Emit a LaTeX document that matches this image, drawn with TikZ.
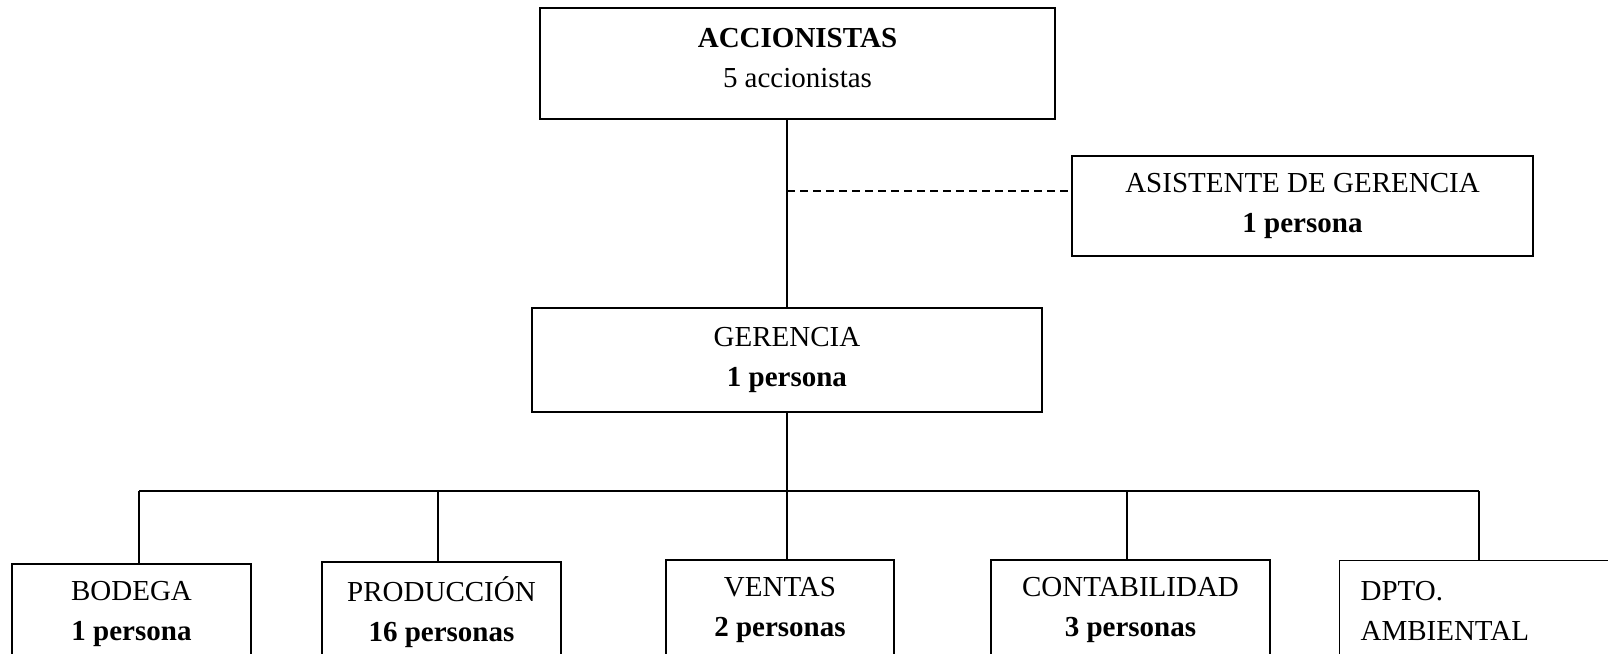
\documentclass[tikz,border=0pt]{standalone}
\usepackage{fontspec}
\setmainfont{Liberation Serif}
\usepackage{tikz}

\begin{document}
\begin{tikzpicture}[
  x=1pt, y=-1pt,
  line width=1.2pt,
  box/.style={draw, align=center, inner sep=0pt, font=\fontsize{29}{40}\selectfont},
  link/.style={line width=1.2pt},
  aux/.style={link, dashed, dash pattern=on 8pt off 5pt}
]
  \useasboundingbox (0,0) rectangle (1608,653);
  \clip (0,0) rectangle (1608,653);

  % upper part
  \node[box, minimum width=515pt, minimum height=111pt] (acc) at (797.5,63.5)
    {\textbf{ACCIONISTAS}\\5 accionistas\\[-28pt]\mbox{}};
  \node[box, minimum width=461pt, minimum height=100pt] (asis) at (1302.5,206)
    {ASISTENTE DE GERENCIA\\\textbf{1 persona}};
  \node[box, minimum width=510pt, minimum height=104pt] (ger) at (787,360)
    {GERENCIA\\\textbf{1 persona}};

  % departments
  \node[box, minimum width=239pt, minimum height=100pt] (bod) at (131.5,614)
    {BODEGA\\\textbf{1 persona}};
  \node[box, minimum width=239pt, minimum height=100pt] (prod) at (441.5,612)
    {PRODUCCIÓN\\\textbf{16 personas}};
  \node[box, minimum width=228pt, minimum height=100pt] (ven) at (780,610)
    {VENTAS\\\textbf{2 personas}};
  \node[box, minimum width=279pt, minimum height=100pt] (cont) at (1130.5,610)
    {CONTABILIDAD\\\textbf{3 personas}};
  \node[box, anchor=north west, minimum height=100pt, inner xsep=21pt,
        text width=260pt, align=left] (dpto) at (1339,560)
    {DPTO.\\AMBIENTAL};

  % connectors
  \coordinate (aj) at (787,191);
  \coordinate (d1) at (139,491);
  \coordinate (d2) at (438,491);
  \coordinate (d3) at (787,491);
  \coordinate (d4) at (1127,491);
  \coordinate (d5) at (1479,491);

  \draw[link] (ger.north) -- (ger.north |- acc.south);
  \draw[aux] (aj) -- (aj -| asis.west);
  \draw[link] (ger.south) -- (d3);
  \draw[link] (d1) -- (d5);
  \draw[link] (d1) -- (d1 |- bod.north);
  \draw[link] (d2) -- (d2 |- prod.north);
  \draw[link] (d3) -- (d3 |- ven.north);
  \draw[link] (d4) -- (d4 |- cont.north);
  \draw[link] (d5) -- (d5 |- dpto.north);
\end{tikzpicture}
\end{document}
